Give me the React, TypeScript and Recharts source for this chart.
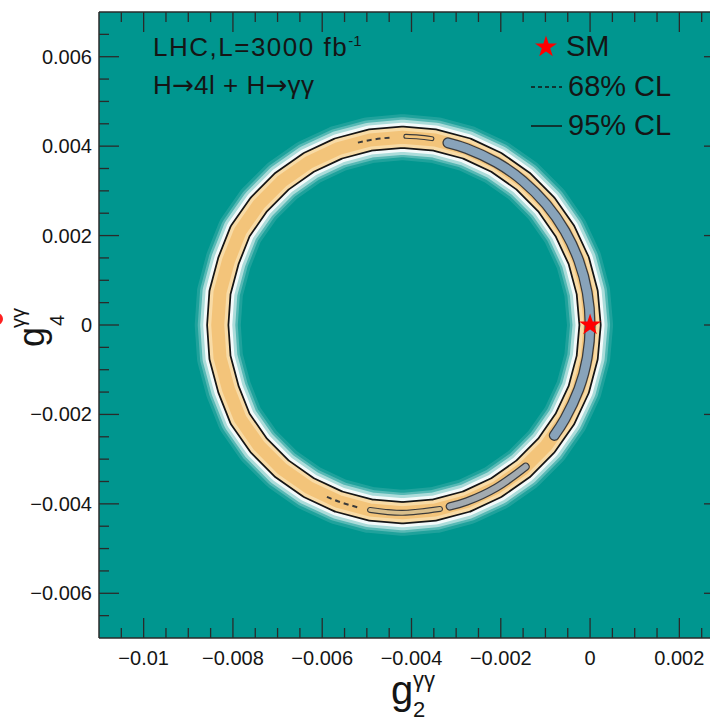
import React from 'react';
import {
  ComposedChart,
  Line,
  Scatter,
  XAxis,
  YAxis,
  ZAxis,
  CartesianGrid,
  ReferenceLine,
  Symbols,
} from 'recharts';

type Pt = { x: number; y: number };

// centre line of the likelihood ring, read every 10 degrees going round from the SM point
const ringMid: Pt[] = [
  { x: 0, y: 0 },
  { x: -0.000064, y: 0.000729 },
  { x: -0.000253, y: 0.001437 },
  { x: -0.000563, y: 0.0021 },
  { x: -0.000983, y: 0.0027 },
  { x: -0.0015, y: 0.003217 },
  { x: -0.0021, y: 0.003637 },
  { x: -0.002764, y: 0.003947 },
  { x: -0.003471, y: 0.004136 },
  { x: -0.0042, y: 0.0042 },
  { x: -0.004929, y: 0.004136 },
  { x: -0.005636, y: 0.003947 },
  { x: -0.0063, y: 0.003637 },
  { x: -0.0069, y: 0.003217 },
  { x: -0.007417, y: 0.0027 },
  { x: -0.007837, y: 0.0021 },
  { x: -0.0081, y: 0.001437 },
  { x: -0.00829, y: 0.000729 },
  { x: -0.00834, y: 0 },
  { x: -0.00829, y: -0.000729 },
  { x: -0.0081, y: -0.001437 },
  { x: -0.007837, y: -0.0021 },
  { x: -0.007417, y: -0.0027 },
  { x: -0.0069, y: -0.003217 },
  { x: -0.0063, y: -0.003637 },
  { x: -0.005636, y: -0.003947 },
  { x: -0.004929, y: -0.004136 },
  { x: -0.0042, y: -0.0042 },
  { x: -0.003471, y: -0.004136 },
  { x: -0.002764, y: -0.003947 },
  { x: -0.0021, y: -0.003637 },
  { x: -0.0015, y: -0.003217 },
  { x: -0.000983, y: -0.0027 },
  { x: -0.000563, y: -0.0021 },
  { x: -0.000253, y: -0.001437 },
  { x: -0.000064, y: -0.000729 },
];

// 68% CL islands inside the band
const island68Right: Pt[] = [
  { x: -0.003184, y: 0.004075 },
  { x: -0.002764, y: 0.003947 },
  { x: -0.0021, y: 0.003637 },
  { x: -0.0015, y: 0.003217 },
  { x: -0.000983, y: 0.0027 },
  { x: -0.000563, y: 0.0021 },
  { x: -0.000253, y: 0.001437 },
  { x: -0.000064, y: 0.000729 },
  { x: 0, y: 0 },
  { x: -0.000064, y: -0.000729 },
  { x: -0.000253, y: -0.001437 },
  { x: -0.000563, y: -0.0021 },
  { x: -0.000802, y: -0.002469 },
];

const island68BottomRight: Pt[] = [
  { x: -0.001444, y: -0.00317 },
  { x: -0.0021, y: -0.003637 },
  { x: -0.002764, y: -0.003947 },
  { x: -0.003141, y: -0.004057 },
];

const island68BottomLeft: Pt[] = [
  { x: -0.003362, y: -0.004114 },
  { x: -0.0042, y: -0.0042 },
  { x: -0.004929, y: -0.004136 },
];

const island68Top: Pt[] = [
  { x: -0.003543, y: 0.004168 },
  { x: -0.003834, y: 0.004204 },
  { x: -0.004127, y: 0.00422 },
];

const dashes68Top: Pt[] = [
  { x: -0.004493, y: 0.00419 },
  { x: -0.004857, y: 0.004148 },
  { x: -0.005216, y: 0.004075 },
];

const dashes68Low: Pt[] = [
  { x: -0.005216, y: -0.004075 },
  { x: -0.005636, y: -0.003947 },
  { x: -0.005975, y: -0.003806 },
];

const smPoint: Pt[] = [{ x: 0, y: 0 }];

const xMajorTicks = [-0.01, -0.008, -0.006, -0.004, -0.002, 0, 0.002];
const xMinorTicks = [
  -0.0105, -0.0095, -0.009, -0.0085, -0.0075, -0.007, -0.0065, -0.0055, -0.005, -0.0045,
  -0.0035, -0.003, -0.0025, -0.0015, -0.001, -0.0005, 0.0005, 0.001, 0.0015, 0.0025,
];
const yMajorTicks = [-0.006, -0.004, -0.002, 0, 0.002, 0.004, 0.006];
const yMinorTicks = [
  -0.0065, -0.0055, -0.005, -0.0045, -0.0035, -0.003, -0.0025, -0.0015, -0.001, -0.0005,
  0.0005, 0.001, 0.0015, 0.0025, 0.003, 0.0035, 0.0045, 0.005, 0.0055, 0.0065,
];

const TEAL = '#00968f';
const AXIS = '#2a2a2a';
const INK = '#151515';
const FONT = '"Liberation Sans", Arial, Helvetica, sans-serif';

const CHART_W = 740;
const CHART_H = 722;
const PLOT_L = 99;
const PLOT_R = 724;
const PLOT_T = 12;
const PLOT_B = 638;

const glowLayers = [
  { w: 46, c: 'rgba(255,255,255,0.12)' },
  { w: 40, c: 'rgba(255,255,255,0.25)' },
  { w: 35, c: 'rgba(255,255,255,0.5)' },
  { w: 29, c: 'rgba(255,255,255,0.85)' },
];
const bandLayers = [
  { w: 23, c: INK },
  { w: 19.5, c: '#f8dba6' },
  { w: 13, c: '#f3c47a' },
];

const isMajor = (list: number[], v: number) => list.some((t) => Math.abs(t - v) < 1e-9);
const fmt = (v: number) => (Math.abs(v) < 1e-12 ? '0' : String(v).replace('-', '\u2212'));

function XTick(props: any) {
  const { x, payload } = props;
  const major = isMajor(xMajorTicks, payload.value);
  const len = major ? 20 : 10;
  return (
    <g>
      <line x1={x} x2={x} y1={PLOT_B} y2={PLOT_B - len} stroke={AXIS} strokeWidth={1.3} />
      <line x1={x} x2={x} y1={PLOT_T} y2={PLOT_T + len} stroke={AXIS} strokeWidth={1.3} />
      {major && (
        <text x={x} y={PLOT_B + 27} textAnchor="middle" fontSize={20} fontFamily={FONT} fill={INK}>
          {fmt(payload.value)}
        </text>
      )}
    </g>
  );
}

function YTick(props: any) {
  const { y, payload } = props;
  const major = isMajor(yMajorTicks, payload.value);
  const len = major ? 20 : 10;
  return (
    <g>
      <line x1={PLOT_L} x2={PLOT_L + len} y1={y} y2={y} stroke={AXIS} strokeWidth={1.3} />
      <line x1={PLOT_R - len} x2={PLOT_R} y1={y} y2={y} stroke={AXIS} strokeWidth={1.3} />
      {major && (
        <text x={PLOT_L - 7} y={y + 7} textAnchor="end" fontSize={20} fontFamily={FONT} fill={INK}>
          {fmt(payload.value)}
        </text>
      )}
    </g>
  );
}

export default function App() {
  const lines: React.ReactNode[] = [];
  glowLayers.concat(bandLayers).forEach((l, i) =>
    lines.push(
      <Line
        key={'ring' + i}
        data={ringMid}
        dataKey="y"
        type="linearClosed"
        stroke={l.c}
        strokeWidth={l.w}
        strokeLinejoin="round"
        dot={false}
        activeDot={false}
        isAnimationActive={false}
      />
    )
  );

  const islands = [
    { data: island68Right, outer: 11, inner: 8.5, fill: '#88a3ba' },
    { data: island68BottomRight, outer: 8.5, inner: 6, fill: '#a2aab0' },
    { data: island68BottomLeft, outer: 6, inner: 3.8, fill: '#d9bf8c' },
    { data: island68Top, outer: 5, inner: 2.8, fill: '#f3c47a' },
  ];
  islands.forEach((s, i) => {
    lines.push(
      <Line
        key={'io' + i}
        data={s.data}
        dataKey="y"
        type="natural"
        stroke="#3a3a3a"
        strokeWidth={s.outer}
        strokeLinecap="round"
        dot={false}
        activeDot={false}
        isAnimationActive={false}
      />
    );
    lines.push(
      <Line
        key={'ii' + i}
        data={s.data}
        dataKey="y"
        type="natural"
        stroke={s.fill}
        strokeWidth={s.inner}
        strokeLinecap="round"
        dot={false}
        activeDot={false}
        isAnimationActive={false}
      />
    );
  });
  [dashes68Top, dashes68Low].forEach((d, i) =>
    lines.push(
      <Line
        key={'d' + i}
        data={d}
        dataKey="y"
        type="natural"
        stroke="#3a3a3a"
        strokeWidth={2}
        strokeDasharray="5 4"
        dot={false}
        activeDot={false}
        isAnimationActive={false}
      />
    )
  );

  const arrow = (
    <tspan fontFamily='"DejaVu Sans", sans-serif' letterSpacing={0}>
      →
    </tspan>
  );

  return (
    <div style={{ position: 'fixed', left: 0, top: 0, width: 710, height: 722, overflow: 'hidden', background: '#fff' }}>
      <div style={{ position: 'absolute', left: 0, top: 0 }}>
        <ComposedChart width={CHART_W} height={CHART_H} margin={{ top: PLOT_T, right: CHART_W - PLOT_R, bottom: 0, left: 0 }}>
          <CartesianGrid fill={TEAL} stroke="none" horizontal={false} vertical={false} />
          <XAxis
            type="number"
            dataKey="x"
            domain={[-0.011, 0.003]}
            allowDataOverflow
            ticks={[...xMajorTicks, ...xMinorTicks]}
            interval={0}
            height={CHART_H - PLOT_B}
            tick={(p: any) => <XTick {...p} />}
            tickLine={false}
            axisLine={{ stroke: AXIS, strokeWidth: 1.5 }}
          />
          <YAxis
            type="number"
            dataKey="y"
            domain={[-0.007, 0.007]}
            allowDataOverflow
            ticks={[...yMajorTicks, ...yMinorTicks]}
            interval={0}
            width={PLOT_L}
            tick={(p: any) => <YTick {...p} />}
            tickLine={false}
            axisLine={{ stroke: AXIS, strokeWidth: 1.5 }}
          />
          <ZAxis type="number" range={[150, 150]} />
          <ReferenceLine y={0.007} stroke={AXIS} strokeWidth={1.5} />
          {lines}
          <Scatter data={smPoint} shape="star" fill="#ff0000" isAnimationActive={false} />
        </ComposedChart>
      </div>
      <svg
        width={CHART_W}
        height={CHART_H}
        style={{ position: 'absolute', left: 0, top: 0, pointerEvents: 'none' }}
        fontFamily={FONT}
      >
        <circle cx={-3} cy={319} r={6} fill="#ff2020" />
        <text x={153} y={56} fontSize={26} letterSpacing={1.5} fill={INK}>
          LHC,L=3000 fb
          <tspan dy={-10} fontSize={15} letterSpacing={0}>
            -1
          </tspan>
        </text>
        <text x={153} y={94} fontSize={26} letterSpacing={0.5} fill={INK}>
          H{arrow}4l + H{arrow}γγ
        </text>
        <Symbols cx={546} cy={47} type="star" size={150} fill="#ff0000" />
        <text x={566} y={56} fontSize={29} fill={INK}>
          SM
        </text>
        <line x1={531} x2={562} y1={87} y2={87} stroke={INK} strokeWidth={1.3} strokeDasharray="4 3" />
        <text x={568} y={96} fontSize={29} fill={INK}>
          68% CL
        </text>
        <line x1={531} x2={562} y1={126} y2={126} stroke={INK} strokeWidth={1.5} />
        <text x={568} y={135} fontSize={29} fill={INK}>
          95% CL
        </text>
        <g fill={INK}>
          <text x={391} y={704} fontSize={40}>
            g
          </text>
          <text x={413} y={717} fontSize={22}>
            2
          </text>
          <text x={413} y={687} fontSize={22}>
            γγ
          </text>
        </g>
        <g fill={INK} transform="translate(44, 347) rotate(-90)">
          <text x={0} y={0} fontSize={36}>
            g
          </text>
          <text x={21} y={20} fontSize={20}>
            4
          </text>
          <text x={19} y={-19} fontSize={20}>
            γγ
          </text>
        </g>
      </svg>
    </div>
  );
}
